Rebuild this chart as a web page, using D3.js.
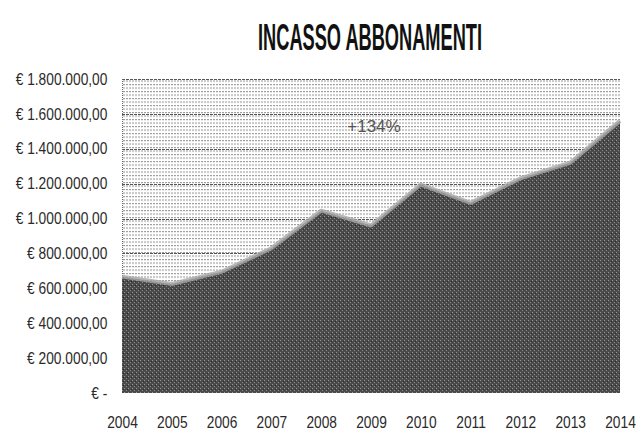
<!DOCTYPE html>
<html>
<head>
<meta charset="utf-8">
<script src="https://cdn.jsdelivr.net/npm/d3@7"></script>
<style>
  html, body { margin: 0; padding: 0; background: #ffffff; }
  svg { display: block; }
  text { font-family: "Liberation Sans Narrow", "Liberation Sans", "DejaVu Sans Condensed", sans-serif; }
</style>
</head>
<body>
<svg id="chart" width="636" height="433"></svg>
<script>
// ---- data ----
const title = "INCASSO ABBONAMENTI";
const years = ["2004","2005","2006","2007","2008","2009","2010","2011","2012","2013","2014"];
const incasso = [667000, 625000, 695000, 830000, 1045000, 960000, 1195000, 1090000, 1230000, 1320000, 1560000];
const yTicks = [0, 200000, 400000, 600000, 800000, 1000000, 1200000, 1400000, 1600000, 1800000];
const annotationText = "+134%";
const annotationYear = "2009";
const annotationValue = 1530000;

// ---- layout ----
const W = 636, H = 433;
const plot = { left: 122, right: 620, top: 79, bottom: 393 };

const svg = d3.select("#chart");

const x = d3.scalePoint().domain(years).range([plot.left, plot.right]);
const y = d3.scaleLinear().domain([0, 1800000]).range([plot.bottom, plot.top]);

const locale = d3.formatLocale({ decimal: ",", thousands: ".", grouping: [3], currency: ["€ ", ""] });
const fmt = locale.format("$,.2f");
const tickFmt = v => v === 0 ? "€ -" : fmt(v);

// ---- patterns ----
const defs = svg.append("defs");
const bg = defs.append("pattern").attr("id", "bgHatch")
  .attr("patternUnits", "userSpaceOnUse").attr("width", 6).attr("height", 3.5);
bg.append("rect").attr("width", 6).attr("height", 3.5).attr("fill", "#ffffff");
bg.append("line").attr("x1", 0).attr("x2", 6).attr("y1", 0.5).attr("y2", 0.5)
  .attr("stroke", "#9a9a9a").attr("stroke-width", 1).attr("stroke-dasharray", "2,1");

const fg = defs.append("pattern").attr("id", "areaTex")
  .attr("patternUnits", "userSpaceOnUse").attr("width", 4).attr("height", 4);
fg.append("rect").attr("width", 4).attr("height", 4).attr("fill", "#4a4a4a");
fg.append("rect").attr("x", 0).attr("y", 0).attr("width", 1).attr("height", 1).attr("fill", "#9a9a9a");
fg.append("rect").attr("x", 2).attr("y", 2).attr("width", 1).attr("height", 1).attr("fill", "#8a8a8a");
fg.append("rect").attr("x", 3).attr("y", 1).attr("width", 1).attr("height", 1).attr("fill", "#2a2a2a");

// ---- plot background ----
svg.append("rect")
  .attr("x", plot.left).attr("y", plot.top)
  .attr("width", plot.right - plot.left).attr("height", plot.bottom - plot.top)
  .attr("fill", "url(#bgHatch)");

// gridlines
svg.append("g").selectAll("line").data(yTicks.filter(d => d > 0)).join("line")
  .attr("x1", plot.left).attr("x2", plot.right)
  .attr("y1", d => Math.round(y(d)) + 0.5).attr("y2", d => Math.round(y(d)) + 0.5)
  .attr("stroke", "#555").attr("stroke-width", 1).attr("stroke-dasharray", "3,1");

// left border dotted
svg.append("line")
  .attr("x1", plot.left + 0.5).attr("x2", plot.left + 0.5)
  .attr("y1", plot.top).attr("y2", plot.bottom)
  .attr("stroke", "#666").attr("stroke-dasharray", "1,1");

// ---- area ----
const area = d3.area()
  .x((d, i) => x(years[i]))
  .y0(y(0))
  .y1(d => y(d));
const line = d3.line()
  .x((d, i) => x(years[i]))
  .y(d => y(d));

svg.append("path").datum(incasso)
  .attr("d", area)
  .attr("fill", "url(#areaTex)");

// lighter fringe along the top edge
svg.append("path").datum(incasso)
  .attr("d", line)
  .attr("fill", "none")
  .attr("stroke", "#a8a8a8")
  .attr("stroke-width", 4)
  .attr("stroke-opacity", 0.8)
  .attr("stroke-linejoin", "round");

// ---- axes ----
const narrow = "scale(0.86,1)";
const yAxis = d3.axisLeft(y).tickValues(yTicks).tickFormat(tickFmt).tickSize(0).tickPadding(17);
const gy = svg.append("g").attr("transform", `translate(${plot.left},0)`).call(yAxis);
gy.select(".domain").remove();
gy.selectAll("text").attr("font-size", 16).attr("fill", "#2a2a2a")
  .attr("transform", narrow)
  .style("font-family", '"Liberation Sans Narrow", "Liberation Sans", sans-serif');

const xAxis = d3.axisBottom(x).tickSize(0).tickPadding(24);
const gx = svg.append("g").attr("transform", `translate(0,${plot.bottom})`).call(xAxis);
gx.select(".domain").remove();
gx.selectAll("text").attr("font-size", 16).attr("fill", "#2a2a2a")
  .attr("transform", narrow)
  .style("font-family", '"Liberation Sans Narrow", "Liberation Sans", sans-serif');

// ---- annotation ----
svg.append("text")
  .attr("x", x(annotationYear) + 3)
  .attr("y", y(annotationValue))
  .attr("text-anchor", "middle")
  .attr("dy", "0.35em")
  .attr("font-size", 17)
  .attr("fill", "#555")
  .text(annotationText);

// ---- title (condensed via horizontal scale) ----
const titleG = svg.append("g").attr("transform", "translate(370,50)");
const titleT = titleG.append("text")
  .attr("x", 0).attr("y", 0)
  .attr("text-anchor", "middle")
  .attr("font-size", 37)
  .attr("font-weight", "bold")
  .attr("fill", "#111")
  .text(title);
const natural = titleT.node().getComputedTextLength();
titleG.attr("transform", `translate(370,50) scale(${224 / natural},1)`);
</script>
</body>
</html>
